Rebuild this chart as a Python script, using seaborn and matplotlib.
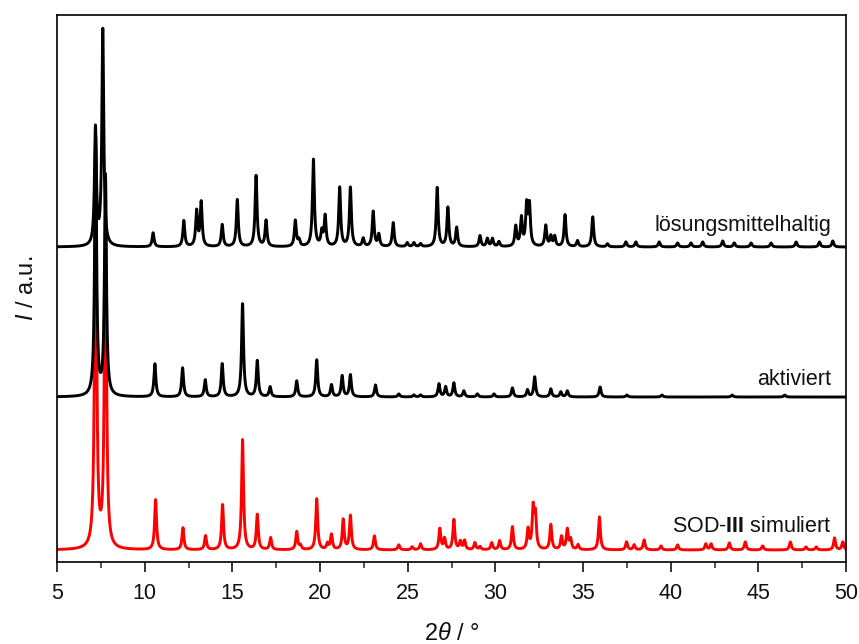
import numpy as np
import pandas as pd
import matplotlib
matplotlib.use("Agg")
import matplotlib.pyplot as plt
from matplotlib.ticker import MultipleLocator
import seaborn as sns

# Reflection positions (2theta, deg) and peak heights (a.u.) for each pattern
solv_pos = [7.19, 7.61, 10.48, 12.23, 12.96, 13.22, 14.42, 15.28, 16.35, 16.92,
            18.59, 18.80, 19.62, 20.10, 20.29, 21.12, 21.73, 22.46, 23.03, 23.35,
            24.17, 24.97, 25.35, 25.73, 26.68, 27.29, 27.79, 29.12, 29.54, 29.83,
            30.20, 31.16, 31.48, 31.78, 31.94, 32.87, 33.16, 33.38, 33.97, 34.68,
            35.55, 36.39, 37.44, 38.01, 39.34, 40.39, 41.15, 41.82, 42.96, 43.62,
            44.58, 45.72, 47.15, 48.48, 49.24]
solv_int = [117, 216, 14, 26, 35, 44, 22, 47, 71, 26,
            26, 6, 87, 14, 30, 59, 59, 8, 35, 12,
            24, 4, 4, 3, 59, 39, 19, 11, 8, 8,
            5, 20, 28, 40, 40, 21, 10, 10, 32, 6,
            30, 3, 5, 5, 5, 4, 4, 5, 6, 4,
            4, 4, 5, 5, 6]

act_pos = [7.20, 7.76, 10.58, 12.16, 13.45, 14.42, 15.58, 16.42, 17.15, 18.67,
           19.81, 20.65, 21.26, 21.73, 23.16, 24.49, 25.35, 25.73, 26.78, 27.16,
           27.63, 28.20, 28.97, 29.92, 30.97, 31.83, 32.24, 33.16, 33.73, 34.10,
           35.97, 37.50, 39.50, 43.50, 46.50]
act_int = [258, 220, 33, 29, 17, 33, 93, 36, 10, 16,
           37, 12, 21, 22, 12, 3, 2, 2, 13, 10,
           14, 6, 3, 3, 9, 7, 20, 8, 5, 6,
           10, 2, 2, 2, 2]

sim_pos = [7.20, 7.76, 10.62, 12.18, 13.47, 14.44, 15.58, 16.42, 17.18, 18.67,
           18.88, 19.81, 20.42, 20.65, 21.32, 21.73, 23.10, 24.49, 25.25, 25.73,
           26.83, 27.10, 27.63, 28.00, 28.24, 28.83, 29.12, 29.79, 30.24, 30.97,
           31.86, 32.15, 32.28, 33.16, 33.77, 34.10, 34.29, 34.71, 35.93, 37.48,
           37.91, 38.48, 39.44, 40.39, 42.00, 42.30, 43.34, 44.25, 45.24, 46.82,
           47.71, 48.30, 49.34, 49.81]
sim_int = [410, 370, 50, 22, 14, 45, 110, 35, 12, 18,
           4, 51, 6, 15, 30, 34, 14, 5, 3, 6,
           21, 11, 30, 8, 9, 7, 3, 7, 9, 23,
           20, 40, 33, 25, 13, 20, 10, 5, 33, 8,
           5, 10, 4, 5, 6, 6, 7, 8, 4, 8,
           3, 3, 12, 8]

pattern_names = ["SOD-III simuliert", "aktiviert", "lösungsmittelhaltig"]
pattern_offsets = [12, 165, 315]
pattern_colors = ["#ff0000", "#000000", "#000000"]

FWHM = 0.13
two_theta = np.arange(5.0, 50.0001, 0.005)


def profile(pos, inten, offset):
    y = np.full_like(two_theta, float(offset))
    hw = FWHM / 2.0
    for p, h in zip(pos, inten):
        y += h / (1.0 + ((two_theta - p) / hw) ** 2)
    return y


frames = []
for name, (pos, inten), off in zip(
        pattern_names,
        [(sim_pos, sim_int), (act_pos, act_int), (solv_pos, solv_int)],
        pattern_offsets):
    frames.append(pd.DataFrame({"two_theta": two_theta,
                                "intensity": profile(pos, inten, off),
                                "pattern": name}))
data = pd.concat(frames, ignore_index=True)

sns.set_theme(style="ticks")
plt.rcParams["font.family"] = ["Liberation Sans", "DejaVu Sans"]
plt.rcParams["mathtext.fontset"] = "custom"
plt.rcParams["mathtext.rm"] = "Liberation Sans"
plt.rcParams["mathtext.it"] = "Liberation Sans:italic"
plt.rcParams["mathtext.bf"] = "Liberation Sans:bold"

fig = plt.figure(figsize=(8.59, 6.44), dpi=100)
ax = fig.add_axes([0.0664, 0.1273, 0.9186, 0.8494])

for name, color, z in zip(pattern_names, pattern_colors, [2, 3, 4]):
    sns.lineplot(data=data[data["pattern"] == name], x="two_theta", y="intensity",
                 color=color, linewidth=2.1, estimator=None, sort=False,
                 ax=ax, zorder=z)

ax.set_xlim(5, 50)
ax.set_ylim(0, 547)
ax.xaxis.set_major_locator(MultipleLocator(5))
ax.xaxis.set_minor_locator(MultipleLocator(2.5))
ax.set_yticks([])
ax.tick_params(axis="x", which="major", direction="out", length=7, width=1.1,
               labelsize=15.5, pad=8, color="black", labelcolor="#111111")
ax.tick_params(axis="x", which="minor", direction="out", length=4, width=1.1)
for sp in ax.spines.values():
    sp.set_visible(True)
    sp.set_linewidth(1.2)
    sp.set_color("black")

ax.set_xlabel(r"2$\theta$ / °", fontsize=17, labelpad=14, color="#111111")
ax.set_ylabel(r"$I$ / a.u.", fontsize=17, labelpad=14, color="#111111")

label_y = [36, 183, 337]
for name, ly in zip(pattern_names, label_y):
    txt = "SOD-$\\mathbf{III}$ simuliert" if name.startswith("SOD") else name
    ax.text(49.15, ly, txt, ha="right", va="center", fontsize=15.5,
            color="#111111", zorder=6)

fig.savefig("out.png", dpi=100)
